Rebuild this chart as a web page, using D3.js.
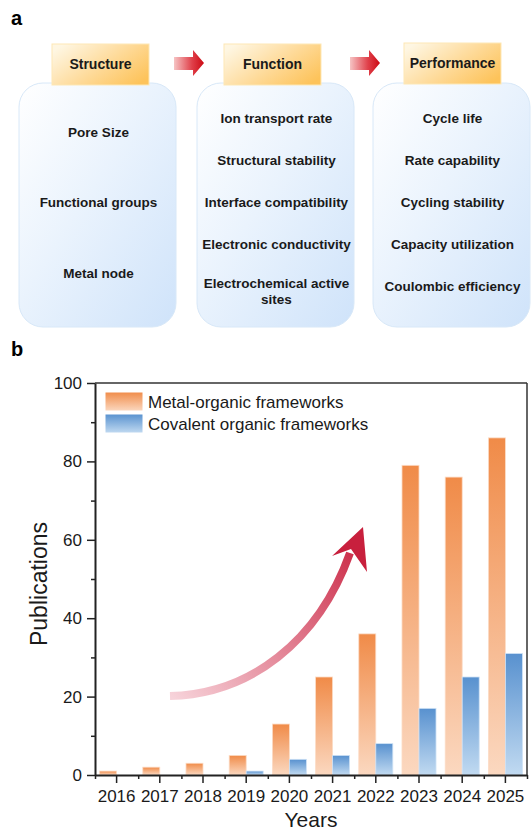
<!DOCTYPE html>
<html>
<head>
<meta charset="utf-8">
<script src="https://cdn.jsdelivr.net/npm/d3@7"></script>
<style>
  body { margin: 0; background: #fff; }
  svg { display: block; font-family: "Liberation Sans", Arial, sans-serif; }
</style>
</head>
<body>
<div id="chart"></div>
<script>
// chart values
var years = [2016, 2017, 2018, 2019, 2020, 2021, 2022, 2023, 2024, 2025];
var mofValues = [1, 2, 3, 5, 13, 25, 36, 79, 76, 86];
var cofValues = [0, 0, 0, 1, 4, 5, 8, 17, 25, 31];
var seriesNames = ["Metal-organic frameworks", "Covalent organic frameworks"];
var yTicks = [0, 20, 40, 60, 80, 100];
var yMinorTicks = [10, 30, 50, 70, 90];

// panel a texts
var headers = ["Structure", "Function", "Performance"];
var structureItems = ["Pore Size", "Functional groups", "Metal node"];
var functionItems = ["Ion transport rate", "Structural stability", "Interface compatibility", "Electronic conductivity", "Electrochemical active|sites"];
var performanceItems = ["Cycle life", "Rate capability", "Cycling stability", "Capacity utilization", "Coulombic efficiency"];

var W = 531, H = 831;
var svg = d3.select("#chart").append("svg")
  .attr("width", W)
  .attr("height", H);

var defs = svg.append("defs");

function linGrad(id, x1, y1, x2, y2, stops) {
  var g = defs.append("linearGradient").attr("id", id)
    .attr("x1", x1).attr("y1", y1).attr("x2", x2).attr("y2", y2);
  stops.forEach(function(s) {
    g.append("stop").attr("offset", s[0]).attr("stop-color", s[1]);
  });
  return g;
}

linGrad("boxGrad", "0%", "0%", "100%", "100%", [["0%", "#ffffff"], ["45%", "#eaf3fd"], ["100%", "#cfe3fa"]]);
linGrad("headGrad", "0%", "20%", "100%", "80%", [["0%", "#fef6e2"], ["55%", "#fed996"], ["100%", "#fdc35a"]]);
linGrad("redArrowGrad", "0%", "0%", "100%", "0%", [["0%", "#f6c4c4"], ["60%", "#e0404a"], ["100%", "#cc0a14"]]);
linGrad("mofGrad", "0%", "0%", "0%", "100%", [["0%", "#f08b48"], ["100%", "#fbd8c0"]]);
linGrad("cofGrad", "0%", "0%", "0%", "100%", [["0%", "#5891cf"], ["100%", "#c1daf1"]]);
linGrad("curveGrad", 170, 695, 363, 527, [["0%", "#f7d3da"], ["55%", "#de7286"], ["100%", "#c81f3d"]])
  .attr("gradientUnits", "userSpaceOnUse");

// ---------- panel a ----------
svg.append("text")
  .attr("x", 11).attr("y", 25)
  .style("font-size", "20px").style("font-weight", "bold")
  .text("a");

var boxX = [19, 197, 373];
var boxW = 157;
var columns = [structureItems, functionItems, performanceItems];

columns.forEach(function(items, i) {
  var g = svg.append("g");
  g.append("rect")
    .attr("x", boxX[i]).attr("y", 83)
    .attr("width", boxW).attr("height", 244)
    .attr("rx", 24).attr("ry", 24)
    .attr("fill", "url(#boxGrad)")
    .attr("stroke", "#d8e8f8")
    .attr("stroke-width", 1);

  var cx = boxX[i] + boxW / 2 + 1;
  var start = i === 0 ? 132 : 118;
  var step = i === 0 ? 70.5 : 42;
  items.forEach(function(item, j) {
    var lines = item.split("|");
    var yc = start + j * step;
    var t = g.append("text")
      .attr("text-anchor", "middle")
      .style("font-size", "13.5px").style("font-weight", "bold")
      .attr("fill", "#1a1a1a");
    lines.forEach(function(l, k) {
      var yy = lines.length > 1 ? yc - 3 + k * 16 : yc;
      t.append("tspan").attr("x", cx).attr("y", yy).attr("dy", "0.36em").text(l);
    });
  });

  // header tab
  var hx = boxX[i] + 33 + (i === 2 ? -2 : 0) - (i === 1 ? 6 : 0);
  svg.append("rect")
    .attr("x", hx).attr("y", 44 - (i === 2 ? 1 : 0))
    .attr("width", 97).attr("height", 41)
    .attr("fill", "url(#headGrad)")
    .attr("stroke", "#fde7b5")
    .attr("stroke-width", 1);
  svg.append("text")
    .attr("x", hx + 48.5).attr("y", 64 - (i === 2 ? 1.5 : 0))
    .attr("dy", "0.36em")
    .attr("text-anchor", "middle")
    .style("font-size", "14px").style("font-weight", "bold")
    .attr("fill", "#1a1a1a")
    .text(headers[i]);
});

// red block arrows between headers
[174, 350].forEach(function(ax) {
  svg.append("path")
    .attr("d", "M" + ax + ",57 L" + (ax + 19) + ",57 L" + (ax + 19) + ",50 L" + (ax + 30) + ",63 L" + (ax + 19) + ",76 L" + (ax + 19) + ",70 L" + ax + ",70 Z")
    .attr("fill", "url(#redArrowGrad)");
});

// ---------- panel b ----------
svg.append("text")
  .attr("x", 11).attr("y", 356)
  .style("font-size", "20px").style("font-weight", "bold")
  .text("b");

var plot = {left: 95, right: 527, top: 383, bottom: 775};

var x = d3.scaleBand()
  .domain(years)
  .range([plot.left, plot.right])
  .paddingInner(0).paddingOuter(0);

var xSub = d3.scaleBand()
  .domain([0, 1])
  .range([0, x.bandwidth()])
  .paddingInner(0)
  .paddingOuter(0.27);

var y = d3.scaleLinear()
  .domain([0, 100])
  .range([plot.bottom, plot.top]);

// minor x ticks at band edges
var xEdge = d3.scaleLinear()
  .domain([0, years.length])
  .range([plot.left, plot.right]);

// bars
var rows = years.map(function(yr, i) { return {year: yr, vals: [mofValues[i], cofValues[i]]}; });
var grads = ["url(#mofGrad)", "url(#cofGrad)"];
var strokes = ["#fcdcc6", "#cfe2f5"];

var groups = svg.append("g").selectAll("g")
  .data(rows)
  .enter().append("g")
  .attr("transform", function(d) { return "translate(" + x(d.year) + ",0)"; });

groups.selectAll("rect")
  .data(function(d) { return d.vals.map(function(v, k) { return {k: k, v: v}; }); })
  .enter().append("rect")
  .filter(function(d) { return d.v > 0; })
  .attr("x", function(d) { return xSub(d.k); })
  .attr("y", function(d) { return y(d.v); })
  .attr("width", xSub.bandwidth())
  .attr("height", function(d) { return y(0) - y(d.v); })
  .attr("fill", function(d) { return grads[d.k]; })
  .attr("stroke", function(d) { return strokes[d.k]; })
  .attr("stroke-width", 0.8);

// curved trend arrow
svg.append("path")
  .attr("d", "M170,696 C250,694 318,642 350,553")
  .attr("fill", "none")
  .attr("stroke", "url(#curveGrad)")
  .attr("stroke-width", 8);
svg.append("path")
  .attr("d", "M363,527 L367,572 L351,549 L332,556 Z")
  .attr("fill", "#c8203d");

// frame top/right
svg.append("line")
  .attr("x1", plot.left).attr("x2", plot.right)
  .attr("y1", plot.top).attr("y2", plot.top)
  .attr("stroke", "#333").attr("stroke-width", 1.5);
svg.append("line")
  .attr("x1", plot.right).attr("x2", plot.right)
  .attr("y1", plot.top).attr("y2", plot.bottom)
  .attr("stroke", "#333").attr("stroke-width", 1.5);

// y axis
var yAxis = svg.append("g")
  .attr("transform", "translate(" + plot.left + ",0)")
  .call(d3.axisLeft(y).tickValues(yTicks).tickSize(8).tickPadding(5).tickSizeOuter(0));
svg.append("g")
  .attr("transform", "translate(" + plot.left + ",0)")
  .call(d3.axisLeft(y).tickValues(yMinorTicks).tickSize(4).tickFormat("").tickSizeOuter(0))
  .select(".domain").remove();

// x axis
var xAxis = svg.append("g")
  .attr("transform", "translate(0," + plot.bottom + ")")
  .call(d3.axisBottom(x).tickSize(8).tickPadding(7).tickSizeOuter(0));
svg.append("g")
  .attr("transform", "translate(0," + plot.bottom + ")")
  .call(d3.axisBottom(xEdge).tickValues(d3.range(0, years.length + 1)).tickSize(4).tickFormat("").tickSizeOuter(0))
  .select(".domain").remove();

svg.selectAll(".domain").attr("stroke", "#222").attr("stroke-width", 2);
svg.selectAll(".tick line").attr("stroke", "#222").attr("stroke-width", 1.5);
svg.selectAll(".tick text")
  .style("font-family", "'Liberation Sans', Arial, sans-serif")
  .style("font-size", "17px")
  .attr("fill", "#1a1a1a");

// axis titles
svg.append("text")
  .attr("x", (plot.left + plot.right) / 2)
  .attr("y", 826.5)
  .attr("text-anchor", "middle")
  .style("font-size", "21px")
  .attr("fill", "#1a1a1a")
  .text("Years");

svg.append("text")
  .attr("transform", "translate(47," + 584 + ") rotate(-90)")
  .attr("text-anchor", "middle")
  .style("font-size", "23px")
  .attr("fill", "#1a1a1a")
  .text("Publications");

// legend
var legend = svg.append("g");
seriesNames.forEach(function(name, i) {
  legend.append("rect")
    .attr("x", 105).attr("y", 392 + i * 22)
    .attr("width", 38).attr("height", 19)
    .attr("fill", grads[i])
    .attr("stroke", "#fff").attr("stroke-width", 1);
  legend.append("text")
    .attr("x", 148).attr("y", 408 + i * 22)
    .style("font-size", "17px")
    .attr("fill", "#1a1a1a")
    .text(name);
});
</script>
</body>
</html>
